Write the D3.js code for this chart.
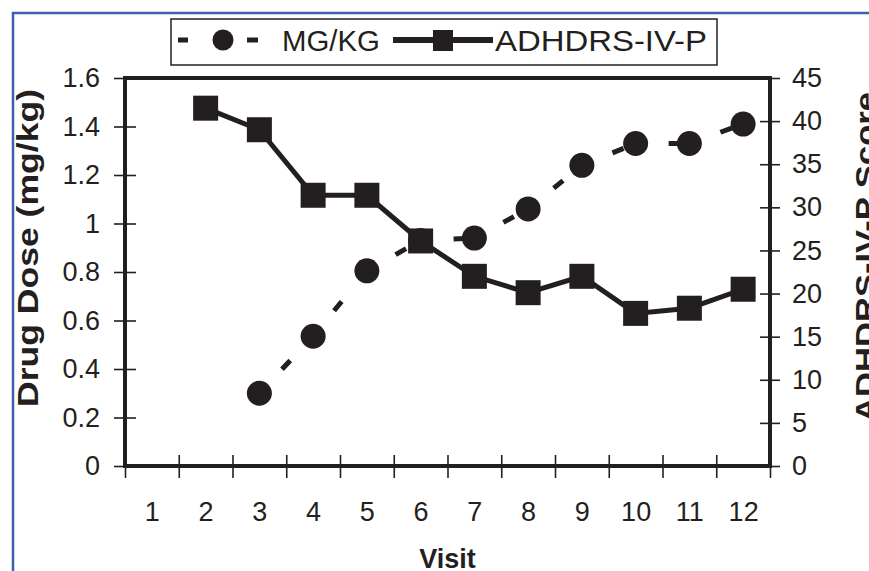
<!DOCTYPE html>
<html>
<head>
<meta charset="utf-8">
<script src="https://cdn.jsdelivr.net/npm/d3@7"></script>
<style>
  body { margin: 0; background: #fff; }
  svg { display: block; font-family: "Liberation Sans", Arial, sans-serif; }
</style>
</head>
<body>
<div id="chart"></div>
<script>
// values
var visits = [1, 2, 3, 4, 5, 6, 7, 8, 9, 10, 11, 12];
var mgkg = [null, null, 0.30, 0.535, 0.805, 0.93, 0.94, 1.06, 1.24, 1.33, 1.33, 1.41];
var adhdrs = [null, 41.5, 39.0, 31.4, 31.4, 26.1, 22.0, 20.1, 22.0, 17.7, 18.3, 20.5];
var doseTicks = [0, 0.2, 0.4, 0.6, 0.8, 1, 1.2, 1.4, 1.6];
var scoreTicks = [0, 5, 10, 15, 20, 25, 30, 35, 40, 45];
var seriesNames = ["MG/KG", "ADHDRS-IV-P"];

var ink = "#231f20";
var W = 869, H = 571;
var margin = {top: 78, right: 99, bottom: 105, left: 125},
    width = W - margin.left - margin.right,
    height = H - margin.top - margin.bottom;

var svg = d3.select("#chart").append("svg")
    .attr("width", W)
    .attr("height", H);

// blue page frame (top and left edges only)
svg.append("path")
    .attr("d", "M13," + H + "V13H" + W)
    .attr("fill", "none")
    .attr("stroke", "#3d5fae")
    .attr("stroke-width", 2.5);

var g = svg.append("g")
    .attr("transform", "translate(" + margin.left + "," + margin.top + ")");

var x = d3.scaleLinear().domain([0.5, 12.5]).range([0, width]);
var yL = d3.scaleLinear().domain([0, 1.6]).range([height, 0]);
var yR = d3.scaleLinear().domain([0, 45]).range([height, 0]);

// left axis, ticks crossing the line
var left = g.append("g")
    .call(d3.axisLeft(yL).tickValues(doseTicks).tickSize(11).tickPadding(14)
        .tickFormat(function(d) { return String(d); }));
left.selectAll(".tick line").attr("x1", 11);

// right axis
var right = g.append("g")
    .attr("transform", "translate(" + width + ",0)")
    .call(d3.axisRight(yR).tickValues(scoreTicks).tickSize(10).tickPadding(12));
right.selectAll(".tick line").attr("x1", -10);

// bottom axis: ticks at the category boundaries, labels at the centres
var bounds = visits.map(function(v) { return v - 0.5; }).concat([12.5]);
var bottom = g.append("g")
    .attr("transform", "translate(0," + height + ")")
    .call(d3.axisBottom(x).tickValues(bounds).tickSize(12).tickFormat(""));
bottom.selectAll(".tick line").attr("y1", -11);

var bottomLabels = g.append("g")
    .attr("transform", "translate(0," + height + ")")
    .call(d3.axisBottom(x).tickValues(visits).tickSize(0).tickPadding(36));
bottomLabels.selectAll(".tick line").remove();

g.selectAll(".domain").remove();
g.selectAll(".tick line").attr("stroke", ink).attr("stroke-width", 1.6);
g.selectAll(".tick text")
    .attr("fill", ink)
    .style("font-size", "27px");

// plot frame
g.append("rect")
    .attr("width", width)
    .attr("height", height)
    .attr("fill", "none")
    .attr("stroke", ink)
    .attr("stroke-width", 4);

// axis titles
g.append("text")
    .attr("transform", "translate(" + (38 - margin.left) + "," + (248 - margin.top) + ") rotate(-90)")
    .attr("text-anchor", "middle")
    .attr("textLength", 318)
    .attr("lengthAdjust", "spacingAndGlyphs")
    .style("font-size", "30px")
    .style("font-weight", "bold")
    .attr("fill", ink)
    .text("Drug Dose (mg/kg)");

g.append("text")
    .attr("transform", "translate(" + (876 - margin.left) + "," + (257 - margin.top) + ") rotate(-90)")
    .attr("text-anchor", "middle")
    .attr("textLength", 330)
    .attr("lengthAdjust", "spacingAndGlyphs")
    .style("font-size", "30px")
    .style("font-weight", "bold")
    .attr("fill", ink)
    .text("ADHDRS-IV-P Score");

g.append("text")
    .attr("x", width / 2)
    .attr("y", 568 - margin.top)
    .attr("text-anchor", "middle")
    .style("font-size", "27px")
    .style("font-weight", "bold")
    .attr("fill", ink)
    .text("Visit");

// series
var doseData = visits.map(function(v, i) { return {visit: v, value: mgkg[i]}; })
    .filter(function(d) { return d.value !== null; });
var scoreData = visits.map(function(v, i) { return {visit: v, value: adhdrs[i]}; })
    .filter(function(d) { return d.value !== null; });

var doseLine = d3.line()
    .x(function(d) { return x(d.visit); })
    .y(function(d) { return yL(d.value); });
var scoreLine = d3.line()
    .x(function(d) { return x(d.visit); })
    .y(function(d) { return yR(d.value); });

// dashed line: the dash pattern restarts on every segment
g.selectAll(".doseSeg")
    .data(d3.pairs(doseData))
    .enter()
    .append("path")
        .attr("d", function(d) { return doseLine(d); })
        .attr("fill", "none")
        .attr("stroke", ink)
        .attr("stroke-width", 5)
        .attr("stroke-dasharray", "0,33,12,80");

g.selectAll(".doseDot")
    .data(doseData)
    .enter()
    .append("circle")
        .attr("cx", function(d) { return x(d.visit); })
        .attr("cy", function(d) { return yL(d.value); })
        .attr("r", 12.5)
        .attr("fill", ink);

g.append("path")
    .attr("d", scoreLine(scoreData))
    .attr("fill", "none")
    .attr("stroke", ink)
    .attr("stroke-width", 5)
    .attr("stroke-linejoin", "miter");

g.selectAll(".scoreDot")
    .data(scoreData)
    .enter()
    .append("rect")
        .attr("x", function(d) { return x(d.visit) - 12.5; })
        .attr("y", function(d) { return yR(d.value) - 12.5; })
        .attr("width", 25)
        .attr("height", 25)
        .attr("fill", ink);

// legend
var legend = svg.append("g");
legend.append("rect")
    .attr("x", 171).attr("y", 19)
    .attr("width", 546).attr("height", 46)
    .attr("fill", "#fff")
    .attr("stroke", ink)
    .attr("stroke-width", 1.5);

legend.append("path")
    .attr("d", "M178,40H188M247,40H258")
    .attr("stroke", ink)
    .attr("stroke-width", 5);
legend.append("circle")
    .attr("cx", 223).attr("cy", 40).attr("r", 10.5)
    .attr("fill", ink);
legend.append("text")
    .attr("x", 282).attr("y", 51)
    .attr("textLength", 98)
    .attr("lengthAdjust", "spacingAndGlyphs")
    .style("font-size", "30px")
    .attr("fill", ink)
    .text(seriesNames[0]);

legend.append("path")
    .attr("d", "M393,40H493")
    .attr("stroke", ink)
    .attr("stroke-width", 6);
legend.append("rect")
    .attr("x", 433).attr("y", 30)
    .attr("width", 20).attr("height", 21)
    .attr("fill", ink);
legend.append("text")
    .attr("x", 495).attr("y", 51)
    .attr("textLength", 212)
    .attr("lengthAdjust", "spacingAndGlyphs")
    .style("font-size", "30px")
    .attr("fill", ink)
    .text(seriesNames[1]);
</script>
</body>
</html>
